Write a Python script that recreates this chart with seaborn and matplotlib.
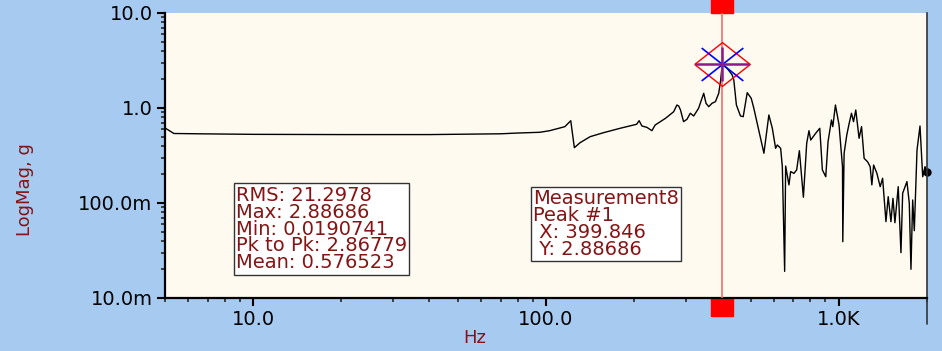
"""
Spectrum plot (LogMag vs Hz) with peak cursor
"""
import matplotlib
matplotlib.use("Agg")
import matplotlib.pyplot as plt
import seaborn as sns
from matplotlib.path import Path
from matplotlib.ticker import FixedLocator, FixedFormatter, NullFormatter
from matplotlib.transforms import blended_transform_factory, offset_copy

# --- data ---
freq_hz = [
    5.0, 5.36, 6.5, 10, 20, 40, 70, 80, 95.3, 103, 116, 121.5, 125, 130.7,
    141.5, 157, 179, 204, 208, 212.7, 221, 230, 236, 256, 273, 280, 284, 288,
    295, 303, 311, 319.5, 332, 345.7, 352, 359.6, 369, 379, 389, 395, 399.846,
    415.7, 432.5, 438, 447, 461.6, 471.6, 486.7, 502.3, 512.7, 555, 577, 593,
    608.5, 616.6, 633, 641.5, 653.3, 658.4, 675.8, 684.9, 703, 718, 733.5, 757,
    777, 791, 802, 834, 861, 879, 902.6, 919, 944, 954, 974, 1002, 1029.6,
    1032, 1042.8, 1065, 1084.6, 1105, 1122.7, 1143, 1173, 1196, 1220.6, 1254,
    1280, 1297, 1315, 1349.5, 1385, 1411.6, 1449, 1475, 1507, 1531, 1555, 1596,
    1630.5, 1652.5, 1709, 1741, 1764, 1788, 1811, 1850, 1894, 1934.6, 1970,
    2000,
]
mag_g = [
    0.616, 0.539, 0.535, 0.528, 0.525, 0.525, 0.535, 0.545, 0.555, 0.577,
    0.636, 0.735, 0.382, 0.431, 0.499, 0.549, 0.611, 0.674, 0.735, 0.646,
    0.626, 0.577, 0.662, 0.779, 0.914, 1.075, 1.049, 0.953, 0.718, 0.760,
    0.880, 0.824, 0.993, 1.428, 1.121, 1.032, 1.121, 1.165, 1.428, 1.97,
    2.88686, 2.617, 2.226, 1.97, 1.075, 0.824, 0.810, 1.449, 1.265, 0.993,
    0.334, 0.844, 0.611, 0.3765, 0.408, 0.3765, 0.241, 0.0190741, 0.245,
    0.155, 0.214, 0.205, 0.223, 0.355, 0.115, 0.425, 0.577, 0.46, 0.542,
    0.611, 0.223, 0.189, 0.442, 0.748, 0.636, 1.075, 0.662, 0.241, 0.0391,
    0.334, 0.52, 0.685, 0.88, 0.718, 0.953, 0.48, 0.636, 0.295, 0.272, 0.241,
    0.155, 0.251, 0.205, 0.1485, 0.182, 0.0636, 0.1165, 0.0636, 0.112, 0.062,
    0.1485, 0.030, 0.1265, 0.168, 0.0993, 0.02005, 0.1075, 0.0511, 0.361,
    0.646, 0.189, 0.241, 0.214,
]

peak_x = 399.846
peak_y = 2.88686

stats_lines = ["RMS: 21.2978", "Max: 2.88686", "Min: 0.0190741",
               "Pk to Pk: 2.86779", "Mean: 0.576523"]
peak_lines = ["Measurement8", "Peak #1", " X: 399.846", " Y: 2.88686"]

x_ticks = [10, 100, 1000]
x_labels = ["10.0", "100.0", "1.0K"]
y_ticks = [0.01, 0.1, 1, 10]
y_labels = ["10.0m", "100.0m", "1.0", "10.0"]

BG = "#A6CAF0"
FACE = "#FFFAF0"
DARKRED = "#861414"

sns.set_style("white")
plt.rcParams["font.family"] = ["DejaVu Sans"]

fig = plt.figure(figsize=(9.42, 3.51), dpi=100, facecolor=BG)
ax = fig.add_axes([0.1752, 0.151, 0.8088, 0.812])
ax.set_facecolor(FACE)

sns.lineplot(x=freq_hz, y=mag_g, ax=ax, color="black", linewidth=1.0,
             estimator=None, sort=False)
ax.set_xscale("log")
ax.set_yscale("log")
ax.set_xlim(5, 2000)
ax.set_ylim(0.01, 10)

# end-of-trace dot
ax.plot([freq_hz[-1]], [mag_g[-1]], marker="o", ms=5, color="black",
        clip_on=False)

# ticks
ax.xaxis.set_major_locator(FixedLocator(x_ticks))
ax.xaxis.set_major_formatter(FixedFormatter(x_labels))
ax.xaxis.set_minor_formatter(NullFormatter())
ax.yaxis.set_major_locator(FixedLocator(y_ticks))
ax.yaxis.set_major_formatter(FixedFormatter(y_labels))
ax.yaxis.set_minor_formatter(NullFormatter())
ax.tick_params(which="major", direction="out", length=6, width=1.5,
               labelsize=14, colors="black", pad=3, left=True, bottom=True)
ax.tick_params(which="minor", direction="out", length=3, width=1.2,
               left=True, bottom=True)

for side in ["left", "bottom"]:
    ax.spines[side].set_linewidth(1.6)
    ax.spines[side].set_color("black")
ax.spines["top"].set_visible(False)
ax.spines["right"].set_color("#333333")
ax.spines["right"].set_linewidth(1.2)
ax.plot([1, 1], [-0.09, 0], transform=ax.transAxes, color="#333333",
        lw=1.2, clip_on=False)

ax.set_xlabel("Hz", color=DARKRED, fontsize=13)
ax.set_ylabel("LogMag, g", color=DARKRED, fontsize=13)
ax.xaxis.set_label_coords(0.407, -0.11)
ax.yaxis.set_label_coords(-0.172, 0.382)

# cursor line and handles
ax.axvline(peak_x, color="#F26D6D", lw=1.2, zorder=3)
trans = blended_transform_factory(ax.transData, ax.transAxes)
rect = [(-1, -0.82), (1, -0.82), (1, 0.82), (-1, 0.82), (-1, -0.82)]
ax.plot([peak_x], [1], marker=rect, ms=16, color="red", clip_on=False,
        transform=offset_copy(trans, fig=fig, x=0, y=6.5, units="points"))
ax.plot([peak_x], [0], marker=rect, ms=16, color="red", clip_on=False,
        transform=offset_copy(trans, fig=fig, x=0, y=-6.5, units="points"))

# peak marker: diamond, X and plus
diamond = [(-1.27, 0), (0, 1), (1.27, 0), (0, -1), (-1.27, 0)]
cross = Path([(-1, -0.79), (1, 0.79), (-1, 0.79), (1, -0.79)],
             [Path.MOVETO, Path.LINETO, Path.MOVETO, Path.LINETO])
plus = Path([(-1, 0), (1, 0), (0, -0.63), (0, 0.63)],
            [Path.MOVETO, Path.LINETO, Path.MOVETO, Path.LINETO])
ax.plot([peak_x], [peak_y], marker=diamond, ms=40, mfc="none", mec="red",
        mew=1.0, zorder=5)
ax.plot([peak_x], [peak_y], marker=cross, ms=30, mec="blue", mew=1.2,
        zorder=6)
ax.plot([peak_x], [peak_y], marker=plus, ms=39, mec="#8B1A8B", mew=1.8,
        zorder=6)

# info boxes
box = dict(boxstyle="square,pad=0.12", fc="white", ec="#333333", lw=1)
ax.text(0.093, 0.394, "\n".join(stats_lines), transform=ax.transAxes,
        ha="left", va="top", fontsize=14, color=DARKRED, linespacing=0.86,
        bbox=box)
ax.text(0.483, 0.382, "\n".join(peak_lines), transform=ax.transAxes,
        ha="left", va="top", fontsize=14, color=DARKRED, linespacing=0.86,
        bbox=box)

plt.savefig("out.png", dpi=100, facecolor=BG)
